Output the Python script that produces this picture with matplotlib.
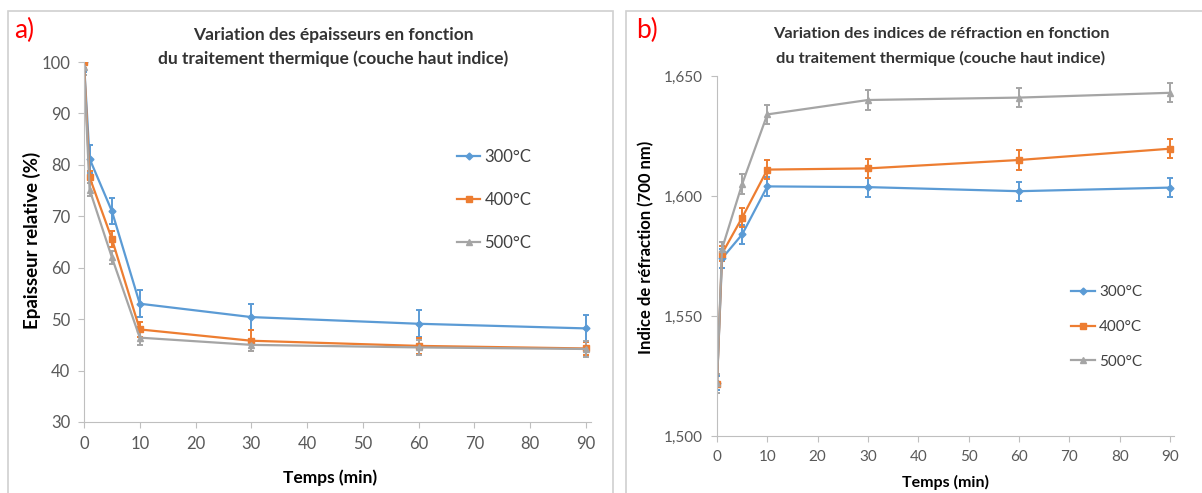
import numpy as np
import matplotlib
matplotlib.use("Agg")
import matplotlib.pyplot as plt
from matplotlib.patches import Rectangle
from matplotlib.ticker import FuncFormatter

plt.rcParams['font.family'] = ['Lato', 'DejaVu Sans']

# data
temps = [0, 1, 5, 10, 30, 60, 90]
series = ["300°C", "400°C", "500°C"]

ep_300 = [100, 81.2, 71.0, 53.0, 50.4, 49.1, 48.2]
ep_400 = [100, 77.6, 65.6, 48.0, 45.8, 44.8, 44.3]
ep_500 = [99.0, 75.2, 62.0, 46.4, 45.0, 44.5, 44.2]
ep_err_300 = [2.0, 2.7, 2.5, 2.6, 2.6, 2.6, 2.6]
ep_err_400 = [1.2, 1.2, 1.5, 1.5, 2.0, 1.6, 1.3]
ep_err_500 = [1.5, 1.2, 1.3, 1.5, 1.2, 1.4, 1.5]

n_300 = [1.522, 1.574, 1.584, 1.604, 1.6037, 1.602, 1.6035]
n_400 = [1.5215, 1.576, 1.591, 1.611, 1.6115, 1.615, 1.6197]
n_500 = [1.522, 1.578, 1.605, 1.634, 1.640, 1.641, 1.643]
n_err_300 = [0.003, 0.004, 0.004, 0.004, 0.004, 0.004, 0.004]
n_err_400 = [0.001, 0.003, 0.004, 0.004, 0.004, 0.004, 0.004]
n_err_500 = [0.004, 0.003, 0.004, 0.004, 0.004, 0.004, 0.004]

colors = ["#5B9BD5", "#ED7D31", "#A5A5A5"]
markers = ["D", "s", "^"]
msizes = [3.5, 5, 5]
text_col = "#404040"

W, H = 1202, 493
fig = plt.figure(figsize=(W / 100, H / 100), dpi=100)


def px_axes(left, top, right, bottom):
    return fig.add_axes([left / W, 1 - bottom / H, (right - left) / W, (bottom - top) / H])


def ftext(x, y, s, **kw):
    return fig.text(x / W, 1 - y / H, s, **kw)


# panel frames
for x0, x1 in [(8, 613), (626, 1210)]:
    fig.patches.append(Rectangle((x0 / W, -0.02), (x1 - x0) / W, 1 - 11 / H + 0.02,
                                 transform=fig.transFigure, fill=False,
                                 edgecolor="#D0D0D0", linewidth=1.2))


def style(ax, fs):
    for s in ["top", "right"]:
        ax.spines[s].set_visible(False)
    for s in ["left", "bottom"]:
        ax.spines[s].set_color("#BFBFBF")
    ax.tick_params(direction="out", length=4, color="#BFBFBF", labelsize=fs,
                   labelcolor="#595959", pad=6)


def draw(ax, ys, errs):
    handles = []
    for y, e, c, m, ms in zip(ys, errs, colors, markers, msizes):
        eb = ax.errorbar(temps, y, yerr=e, color=c, marker=m, markersize=ms, linewidth=1.6,
                         capsize=2.5, elinewidth=1.4, capthick=1.4)
        handles.append(eb[0])
    return handles


# panel a
ax1 = px_axes(84, 62, 591, 422)
h1 = draw(ax1, [ep_300, ep_400, ep_500], [ep_err_300, ep_err_400, ep_err_500])
style(ax1, 12)
ax1.set_xlim(0, 90.9)
ax1.set_ylim(30, 100)
ax1.set_xticks(range(0, 91, 10))
ax1.set_yticks(range(30, 101, 10))
ax1.legend(h1, series, loc="center left", bbox_to_anchor=(457 / W, 1 - 200 / H),
           bbox_transform=fig.transFigure, frameon=False, fontsize=12,
           labelspacing=1.6, handlelength=1.4, handletextpad=0.25,
           borderpad=0, borderaxespad=0, labelcolor=text_col)
ftext(32, 240, "Epaisseur relative (%)", rotation=90, ha="center", va="center",
      fontsize=13.5, fontweight="bold", color="black")
ftext(330, 478, "Temps (min)", ha="center", va="center", fontsize=12.5,
      fontweight="bold", color="black")

# panel b
ax2 = px_axes(717, 76, 1174, 436)
h2 = draw(ax2, [n_300, n_400, n_500], [n_err_300, n_err_400, n_err_500])
style(ax2, 11)
ax2.set_xlim(0, 90.8)
ax2.set_ylim(1.5, 1.65)
ax2.set_xticks(range(0, 91, 10))
ax2.set_yticks([1.5, 1.55, 1.6, 1.65])
ax2.yaxis.set_major_formatter(FuncFormatter(lambda v, p: f"{v:.3f}".replace(".", ",")))
ax2.legend(h2, series, loc="center left", bbox_to_anchor=(1071 / W, 1 - 327 / H),
           bbox_transform=fig.transFigure, frameon=False, fontsize=11,
           labelspacing=1.35, handlelength=1.6, handletextpad=0.25,
           borderpad=0, borderaxespad=0, labelcolor=text_col)
ftext(646, 247, "Indice de réfraction (700 nm)", rotation=90, ha="center", va="center",
      fontsize=12, fontweight="bold", color="black")
ftext(945, 482, "Temps (min)", ha="center", va="center", fontsize=11.5,
      fontweight="bold", color="black")

# titles and panel letters
ftext(333, 35, "Variation des épaisseurs en fonction", ha="center", va="center",
      fontsize=12.5, fontweight="bold", color="#333333")
ftext(333, 59, "du traitement thermique (couche haut indice)", ha="center", va="center",
      fontsize=12.5, fontweight="bold", color="#333333")
ftext(941, 34, "Variation des indices de réfraction en fonction", ha="center", va="center",
      fontsize=11.8, fontweight="bold", color="#333333")
ftext(941, 58, "du traitement thermique (couche haut indice)", ha="center", va="center",
      fontsize=11.8, fontweight="bold", color="#333333")
ftext(14, 30, "a)", color="red", fontsize=19, ha="left", va="center")
ftext(636, 30, "b)", color="red", fontsize=19, ha="left", va="center")

fig.savefig("out.png", dpi=100)
